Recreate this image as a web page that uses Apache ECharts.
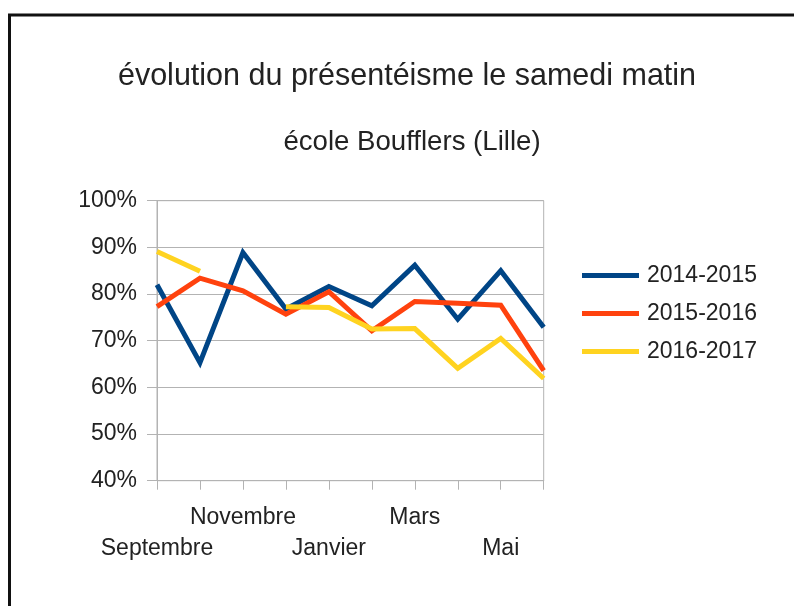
<!DOCTYPE html>
<html>
<head>
<meta charset="utf-8">
<script src="https://cdn.jsdelivr.net/npm/echarts@6/dist/echarts.min.js"></script>
<style>
html,body{margin:0;padding:0;background:#fff;}
#chart{width:794px;height:606px;}
</style>
</head>
<body>
<div id="chart"></div>
<script>
const months = ['Septembre','Octobre','Novembre','Décembre','Janvier','Février','Mars','Avril','Mai','Juin'];
const seriesNames = ['2014-2015','2015-2016','2016-2017'];
const s2014 = [82, 65.3, 88.9, 76.8, 81.6, 77.5, 86.2, 74.6, 85, 72.9];
const s2015 = [77.3, 83.4, 80.7, 75.7, 80.5, 72.1, 78.4, 78, 77.6, 63.6];
const s2016 = [89.1, 84.9, null, 77.3, 77.1, 72.5, 72.6, 64.1, 70.5, 61.9];
const yTicks = {min: 40, max: 100, interval: 10};
const colors = ['#004586', '#ff420e', '#ffd320'];

const FONT = '"Liberation Sans", Arial, sans-serif';
const TXT = '#222222';
const chart = echarts.init(document.getElementById('chart'), null, {renderer: 'canvas'});
const data = [s2014, s2015, s2016];
chart.setOption({
  backgroundColor: '#ffffff',
  animation: false,
  textStyle: {fontFamily: FONT},
  title: [
    {text: 'évolution du présentéisme le samedi matin', left: 402, textAlign: 'center', top: 56,
     textStyle: {fontFamily: FONT, fontSize: 30.5, fontWeight: 'normal', color: TXT}},
    {text: 'école Boufflers (Lille)', left: 407, textAlign: 'center', top: 123,
     textStyle: {fontFamily: FONT, fontSize: 27.6, fontWeight: 'normal', color: TXT}}
  ],
  graphic: [{
    type: 'rect', shape: {x: 9.5, y: 15, width: 900, height: 800},
    style: {fill: 'none', stroke: '#111', lineWidth: 3}, silent: true, z: 100
  }],
  legend: {
    orient: 'vertical', left: 582, top: 264, itemWidth: 57, itemHeight: 5, itemGap: 15,
    padding: 0, icon: 'rect',
    textStyle: {fontFamily: FONT, fontSize: 23, color: TXT, padding: [0, 0, 0, 3]},
    data: seriesNames
  },
  grid: {left: 157, right: 250.3, top: 200.7, bottom: 125.3, show: true, borderColor: '#b3b3b3', borderWidth: 1, containLabel: false},
  xAxis: {
    type: 'category', data: months, boundaryGap: false,
    axisLine: {lineStyle: {color: '#b3b3b3', width: 1}},
    axisTick: {show: true, interval: 0, length: 9, lineStyle: {color: '#b3b3b3'}},
    axisLabel: {
      interval: 0, margin: 21, fontFamily: FONT, fontSize: 23, color: TXT, lineHeight: 31,
      formatter: function (v, i) {
        if (i % 2 === 1) return '';
        return (i % 4 === 0) ? '\n' + v : v;
      }
    },
    splitLine: {show: false}
  },
  yAxis: {
    type: 'value', min: yTicks.min, max: yTicks.max, interval: yTicks.interval,
    axisLine: {show: true, lineStyle: {color: '#b3b3b3', width: 1}},
    axisTick: {show: true, length: 10, lineStyle: {color: '#b3b3b3'}},
    axisLabel: {margin: 20, fontFamily: FONT, fontSize: 23, color: TXT, formatter: '{value}%'},
    splitLine: {show: true, lineStyle: {color: '#b3b3b3', width: 1}}
  },
  series: seriesNames.map((n, k) => ({
    name: n, type: 'line', data: data[k], symbol: 'none', showSymbol: false,
    connectNulls: false, color: colors[k],
    lineStyle: {width: 5, color: colors[k], cap: 'butt', join: 'miter'},
    itemStyle: {color: colors[k]}
  }))
});
</script>
</body>
</html>
